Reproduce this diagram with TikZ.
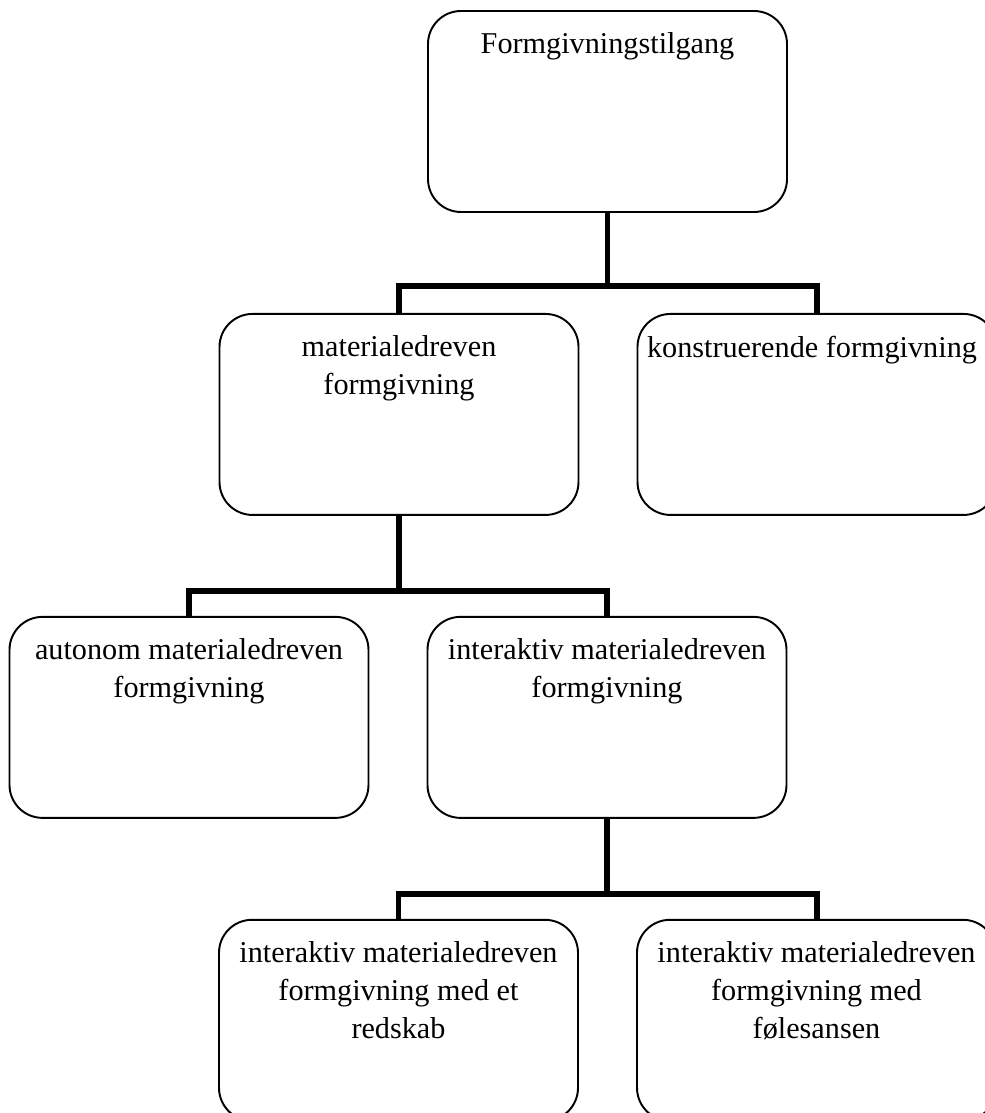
\documentclass[tikz,border=0pt]{standalone}
\usepackage{fontspec}
\setmainfont{Liberation Serif}
\usepackage{tikz}
\usetikzlibrary{positioning}

\begin{document}
\begin{tikzpicture}[
    node distance=2cm,
    box/.style={draw, line width=1.1pt, rounded corners=0.66cm, minimum width=7.18cm, minimum height=4.02cm, inner sep=0pt},
    boxtext/.style={anchor=north, align=center, inner sep=0pt, yshift=-0.45cm, font=\fontsize{17.2}{21.6}\selectfont},
    conn/.style={draw, line width=3.4pt, line join=miter}
]
    \useasboundingbox (0,0) rectangle (19.7,-22.26);
    \clip (0,0) rectangle (19.7,-22.26);

    % Boxes
    \node[box, label={[boxtext]north:Formgivningstilgang}] (top) at (12.15,-2.23) {};
    \node[box, below=of top, xshift=-4.17cm, label={[boxtext]north:materialedreven\\formgivning}] (mat) {};
    \node[box, below=of top, xshift=4.19cm, label={[boxtext, xshift=-0.1cm]north:konstruerende formgivning}] (kon) {};
    \node[box, below=of mat, xshift=-4.2cm, label={[boxtext]north:autonom materialedreven\\formgivning}] (aut) {};
    \node[box, below=of mat, xshift=4.16cm, label={[boxtext]north:interaktiv materialedreven\\formgivning}] (int) {};
    \node[box, below=of int, xshift=-4.17cm, label={[boxtext]north:interaktiv materialedreven\\formgivning med et\\redskab}] (red) {};
    \node[box, below=of int, xshift=4.19cm, label={[boxtext]north:interaktiv materialedreven\\formgivning med\\følesansen}] (fol) {};

    % Connectors
    \draw[conn] (top.south) -- ++(0,-1.46) coordinate (j1);
    \draw[conn] (mat.north) |- (j1) -| (kon.north);
    \draw[conn] (mat.south) -- ++(0,-1.5) coordinate (j2);
    \draw[conn] (aut.north) |- (j2) -| (int.north);
    \draw[conn] (int.south) -- ++(0,-1.5) coordinate (j3);
    \draw[conn] (red.north) |- (j3) -| (fol.north);
\end{tikzpicture}
\end{document}
